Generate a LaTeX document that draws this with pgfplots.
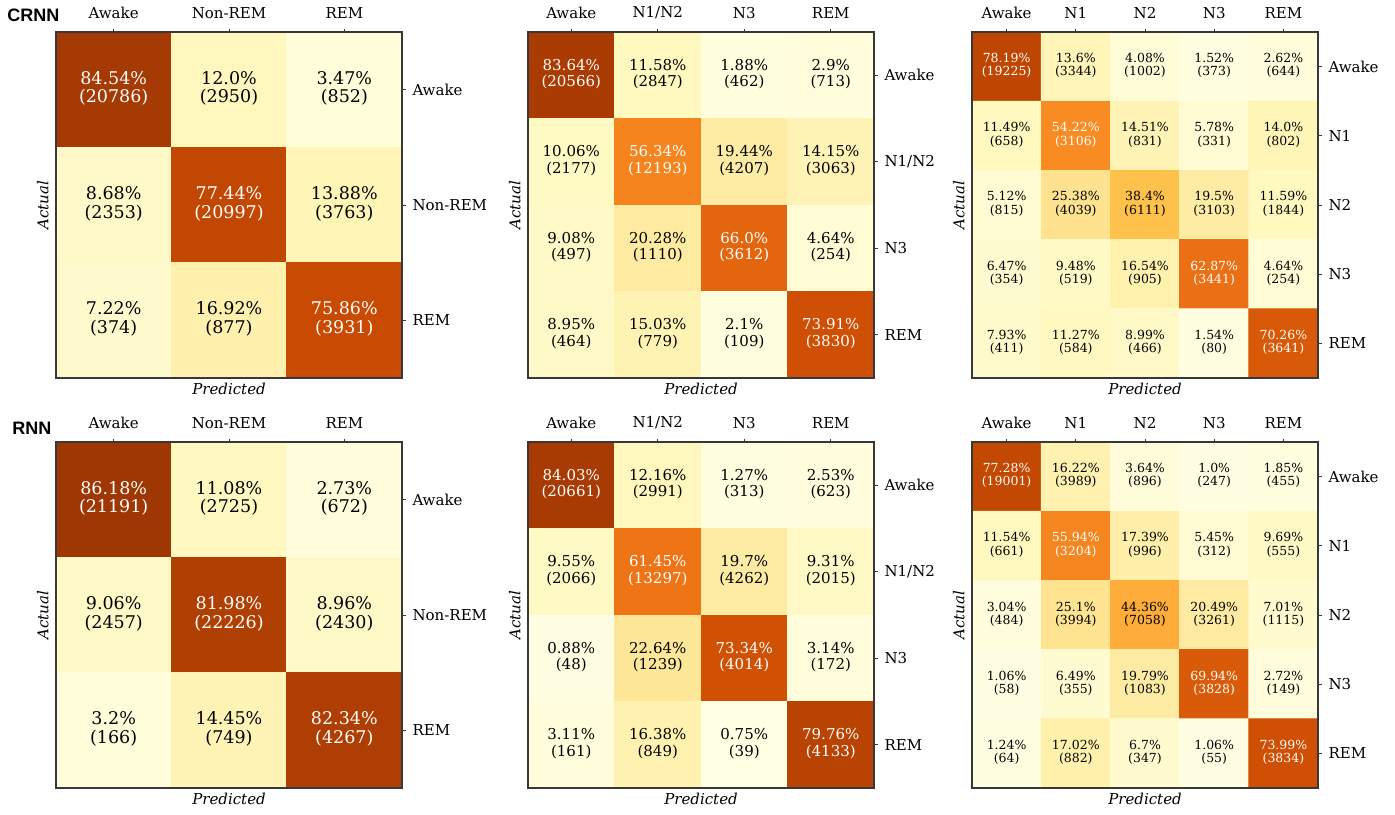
\documentclass[border=0pt]{standalone}
\usepackage{fontspec}
\setmainfont{DejaVu Serif}
\newfontfamily\hdfont{Liberation Sans}
\usepackage{pgfplots}
\usepackage{pgfplotstable}
\pgfplotsset{compat=1.18}

% matplotlib YlOrBr
\pgfplotsset{colormap={ylorbr}{rgb255=(255,255,229) rgb255=(255,247,188) rgb255=(254,227,145)
  rgb255=(254,196,79) rgb255=(254,153,41) rgb255=(236,112,20) rgb255=(204,76,2)
  rgb255=(153,52,4) rgb255=(102,37,6)}}

% CRNN, 3 classes
\pgfplotstableread{
x y p n
0 0 84.54 20786
1 0 12.0 2950
2 0 3.47 852
0 1 8.68 2353
1 1 77.44 20997
2 1 13.88 3763
0 2 7.22 374
1 2 16.92 877
2 2 75.86 3931
}\tA
% CRNN, 4 classes
\pgfplotstableread{
x y p n
0 0 83.64 20566
1 0 11.58 2847
2 0 1.88 462
3 0 2.9 713
0 1 10.06 2177
1 1 56.34 12193
2 1 19.44 4207
3 1 14.15 3063
0 2 9.08 497
1 2 20.28 1110
2 2 66.0 3612
3 2 4.64 254
0 3 8.95 464
1 3 15.03 779
2 3 2.1 109
3 3 73.91 3830
}\tB
% CRNN, 5 classes
\pgfplotstableread{
x y p n
0 0 78.19 19225
1 0 13.6 3344
2 0 4.08 1002
3 0 1.52 373
4 0 2.62 644
0 1 11.49 658
1 1 54.22 3106
2 1 14.51 831
3 1 5.78 331
4 1 14.0 802
0 2 5.12 815
1 2 25.38 4039
2 2 38.4 6111
3 2 19.5 3103
4 2 11.59 1844
0 3 6.47 354
1 3 9.48 519
2 3 16.54 905
3 3 62.87 3441
4 3 4.64 254
0 4 7.93 411
1 4 11.27 584
2 4 8.99 466
3 4 1.54 80
4 4 70.26 3641
}\tC
% RNN, 3 classes
\pgfplotstableread{
x y p n
0 0 86.18 21191
1 0 11.08 2725
2 0 2.73 672
0 1 9.06 2457
1 1 81.98 22226
2 1 8.96 2430
0 2 3.2 166
1 2 14.45 749
2 2 82.34 4267
}\tD
% RNN, 4 classes
\pgfplotstableread{
x y p n
0 0 84.03 20661
1 0 12.16 2991
2 0 1.27 313
3 0 2.53 623
0 1 9.55 2066
1 1 61.45 13297
2 1 19.7 4262
3 1 9.31 2015
0 2 0.88 48
1 2 22.64 1239
2 2 73.34 4014
3 2 3.14 172
0 3 3.11 161
1 3 16.38 849
2 3 0.75 39
3 3 79.76 4133
}\tE
% RNN, 5 classes
\pgfplotstableread{
x y p n
0 0 77.28 19001
1 0 16.22 3989
2 0 3.64 896
3 0 1.0 247
4 0 1.85 455
0 1 11.54 661
1 1 55.94 3204
2 1 17.39 996
3 1 5.45 312
4 1 9.69 555
0 2 3.04 484
1 2 25.1 3994
2 2 44.36 7058
3 2 20.49 3261
4 2 7.01 1115
0 3 1.06 58
1 3 6.49 355
2 3 19.79 1083
3 3 69.94 3828
4 3 2.72 149
0 4 1.24 64
1 4 17.02 882
2 4 6.7 347
3 4 1.06 55
4 4 73.99 3834
}\tF

% cell text: percentage (raw string) and count; white on dark cells
\newcommand\cellbox[2]{\ifdim#1pt>50pt\color{white}\fi
  \begin{tabular}{@{}c@{}}#1\%\\(\pgfmathprintnumber[fixed,precision=0,1000 sep={},assume math mode=true]{#2})\end{tabular}}

\pgfplotsset{
  cmat/.style n args={3}{
    scale only axis, width=173pt, height=173pt,
    xmin=-0.5, xmax=#1, ymin=-0.5, ymax=#1,
    y dir=reverse, enlargelimits=false, axis on top,
    colormap name=ylorbr, point meta min=0, point meta max=100,
    xtick={#2}, ytick={#2}, xticklabels={#3}, yticklabels={#3},
    xtick pos=right, xticklabel pos=right, ytick pos=right, yticklabel pos=right,
    tick align=outside, major tick length=1.75pt,
    tick style={draw=black!78, line width=0.45pt},
    axis line style={draw=black!78, line width=0.55pt},
    tick label style={font=\fontsize{7.5}{9}\selectfont},
    xticklabel style={yshift=1.5pt},
  },
}
% one panel: table, columns, font of the cells
\newcommand\panel[3]{%
  \addplot[matrix plot*, mesh/cols=#2, point meta=explicit] table[meta=p] {#1};
  \addplot[draw=none, mark=none, point meta=explicit symbolic,
    visualization depends on={\thisrow{n}\as\cnt},
    nodes near coords={\cellbox{\pgfplotspointmeta}{\cnt}},
    every node near coord/.append style={anchor=center, inner sep=0pt, font=#3}]
    table[meta=p] {#1};
}
\newcommand\lbls[1]{%
  \node[anchor=north, inner sep=0pt, font=\itshape\fontsize{7.5}{9}\selectfont]
    at ([yshift=-2.5pt]#1.south) {Predicted};
  \node[rotate=90, anchor=south, inner sep=0pt, font=\itshape\fontsize{7.5}{9}\selectfont]
    at ([xshift=-3.5pt]#1.west) {Actual};}

\begin{document}
\begin{tikzpicture}
\useasboundingbox (0,0) rectangle (697.5pt,407pt);
\def\fA{\fontsize{8.75}{9.1}\selectfont}
\def\fB{\fontsize{7.5}{7.8}\selectfont}
\def\fC{\fontsize{6.25}{6.5}\selectfont}

\begin{axis}[cmat={2.5}{0,1,2}{Awake,Non-REM,REM}, name=a1, at={(28pt,218pt)}, anchor=south west]
  \panel{\tA}{3}{\fA}
\end{axis}
\lbls{a1}
\begin{axis}[cmat={3.5}{0,1,2,3}{Awake,N1/N2,N3,REM}, name=a2, at={(264pt,218pt)}, anchor=south west]
  \panel{\tB}{4}{\fB}
\end{axis}
\lbls{a2}
\begin{axis}[cmat={4.5}{0,1,2,3,4}{Awake,N1,N2,N3,REM}, name=a3, at={(486pt,218pt)}, anchor=south west]
  \panel{\tC}{5}{\fC}
\end{axis}
\lbls{a3}

\begin{axis}[cmat={2.5}{0,1,2}{Awake,Non-REM,REM}, name=b1, at={(28pt,13pt)}, anchor=south west]
  \panel{\tD}{3}{\fA}
\end{axis}
\lbls{b1}
\begin{axis}[cmat={3.5}{0,1,2,3}{Awake,N1/N2,N3,REM}, name=b2, at={(264pt,13pt)}, anchor=south west]
  \panel{\tE}{4}{\fB}
\end{axis}
\lbls{b2}
\begin{axis}[cmat={4.5}{0,1,2,3,4}{Awake,N1,N2,N3,REM}, name=b3, at={(486pt,13pt)}, anchor=south west]
  \panel{\tF}{5}{\fC}
\end{axis}
\lbls{b3}

\node[anchor=base west, inner sep=0pt, font=\hdfont\bfseries\fontsize{9}{10}\selectfont] at (3.5pt,396.2pt) {CRNN};
\node[anchor=base west, inner sep=0pt, font=\hdfont\bfseries\fontsize{9}{10}\selectfont] at (6pt,189.5pt) {RNN};
\end{tikzpicture}
\end{document}
